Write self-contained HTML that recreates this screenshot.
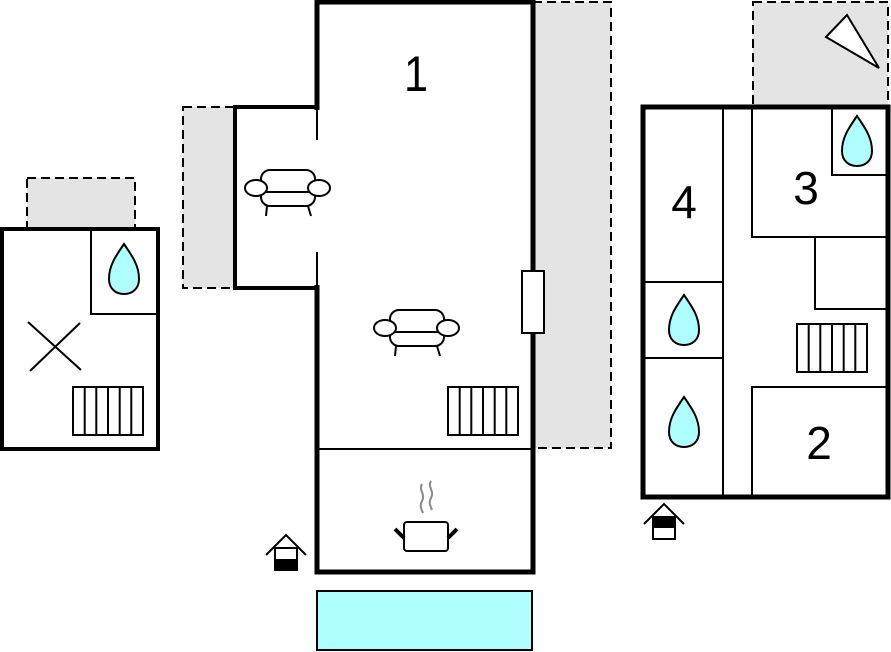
<!DOCTYPE html>
<html><head><meta charset="utf-8"><style>html,body{margin:0;padding:0;background:#fff}svg{display:block}</style></head><body>
<svg width="891" height="652" viewBox="0 0 891 652" xmlns="http://www.w3.org/2000/svg" font-family="Liberation Sans, sans-serif">
<defs>
<g id="drop"><path d="M0,-26 C9,-13 15,-4 15,9 C15,19 8,24 0,24 C-8,24 -15,19 -15,9 C-15,-4 -9,-13 0,-26 Z" fill="#b0ffff" stroke="#000" stroke-width="2"/></g>
<g id="sofa" fill="#fff" stroke="#000" stroke-width="2">
<rect x="-26" y="-18" width="54" height="36" rx="9"/>
<line x1="-26" y1="4" x2="28" y2="4"/>
<ellipse cx="-31" cy="0" rx="11" ry="8"/>
<ellipse cx="32" cy="0" rx="11" ry="8"/>
<line x1="-20" y1="18" x2="-21" y2="28"/>
<line x1="21" y1="18" x2="24" y2="28"/>
</g>
<g id="stairs" fill="none" stroke="#000" stroke-width="2">
<rect x="0" y="0" width="70" height="48" fill="#fff"/>
<line x1="11.7" y1="0" x2="11.7" y2="48"/><line x1="23.3" y1="0" x2="23.3" y2="48"/><line x1="35" y1="0" x2="35" y2="48"/><line x1="46.7" y1="0" x2="46.7" y2="48"/><line x1="58.3" y1="0" x2="58.3" y2="48"/>
</g>
</defs>
<g stroke="#000" stroke-width="2" stroke-dasharray="9,5" fill="#e4e4e4">
<rect x="27" y="178" width="108" height="51"/>
<rect x="183" y="107" width="52" height="181"/>
<rect x="533" y="2" width="78" height="446"/>
<rect x="753" y="2" width="135" height="105"/>
</g>
<polygon points="826,37 847,15 879,68" fill="#fff" stroke="#000" stroke-width="2"/>
<rect x="2" y="229" width="156" height="220" fill="#fff" stroke="#000" stroke-width="4"/>
<polyline points="91,231 91,314 158,314" fill="none" stroke="#000" stroke-width="2"/>
<use href="#drop" x="124" y="270"/>
<line x1="28" y1="322" x2="81" y2="370" stroke="#000" stroke-width="2"/>
<line x1="30" y1="371" x2="80" y2="323" stroke="#000" stroke-width="2"/>
<use href="#stairs" x="73" y="387"/>
<rect x="235" y="107" width="82" height="181" fill="#fff"/>
<rect x="317" y="2" width="216" height="570" fill="#fff" stroke="#000" stroke-width="5"/>
<rect x="314" y="110" width="6" height="175" fill="#fff"/>
<polyline points="317,107 235,107 235,288 317,288" fill="none" stroke="#000" stroke-width="4"/>
<line x1="317" y1="107" x2="317" y2="140" stroke="#000" stroke-width="2"/>
<line x1="317" y1="252" x2="317" y2="290" stroke="#000" stroke-width="2"/>
<line x1="317" y1="449" x2="533" y2="449" stroke="#000" stroke-width="2"/>
<rect x="522" y="271" width="22" height="62" fill="#fff" stroke="#000" stroke-width="2"/>
<text x="416" y="91" font-size="48" text-anchor="middle" transform="translate(416,91) scale(0.9,1.05) translate(-416,-91)">1</text>
<use href="#sofa" x="287" y="188"/>
<use href="#sofa" x="416" y="328"/>
<use href="#stairs" x="448" y="387"/>
<path d="M422,484 c-4,6 4,10 0,17 c-3,5 0,9 1,12 M431,481 c-4,6 4,10 0,17 c-3,5 0,9 1,12" fill="none" stroke="#888" stroke-width="2"/>
<rect x="404" y="522" width="44" height="29" rx="3" fill="#fff" stroke="#000" stroke-width="2"/>
<line x1="395" y1="529" x2="404" y2="538" stroke="#000" stroke-width="4"/>
<line x1="457" y1="529" x2="448" y2="538" stroke="#000" stroke-width="4"/>
<rect x="317" y="591" width="215" height="59" fill="#b0ffff" stroke="#000" stroke-width="2"/>
<polyline points="266,555 286,535 306,555" fill="none" stroke="#000" stroke-width="2"/>
<rect x="275" y="548" width="22" height="22" fill="#fff" stroke="#000" stroke-width="2"/>
<rect x="275" y="559" width="22" height="11" fill="#000"/>
<rect x="643" y="107" width="245" height="390" fill="#fff" stroke="#000" stroke-width="5"/>
<g stroke="#000" stroke-width="2" fill="none">
<line x1="723" y1="107" x2="723" y2="497"/>
<line x1="643" y1="282" x2="723" y2="282"/>
<line x1="643" y1="358" x2="723" y2="358"/>
<polyline points="752,107 752,237 888,237"/>
<polyline points="832,107 832,175 888,175"/>
<polyline points="815,237 815,309 888,309"/>
<polyline points="752,497 752,387 888,387"/>
</g>
<use href="#drop" x="857" y="142"/>
<use href="#drop" x="684" y="321"/>
<use href="#drop" x="684" y="423"/>
<use href="#stairs" x="797" y="324"/>
<text x="684" y="218" font-size="46" text-anchor="middle">4</text>
<text x="806" y="204" font-size="46" text-anchor="middle">3</text>
<text x="819" y="459" font-size="46" text-anchor="middle">2</text>
<polyline points="644,524 664,504 684,524" fill="none" stroke="#000" stroke-width="2"/>
<rect x="653" y="517" width="22" height="22" fill="#fff" stroke="#000" stroke-width="2"/>
<rect x="653" y="517" width="22" height="11" fill="#000"/>
</svg>
</body></html>
